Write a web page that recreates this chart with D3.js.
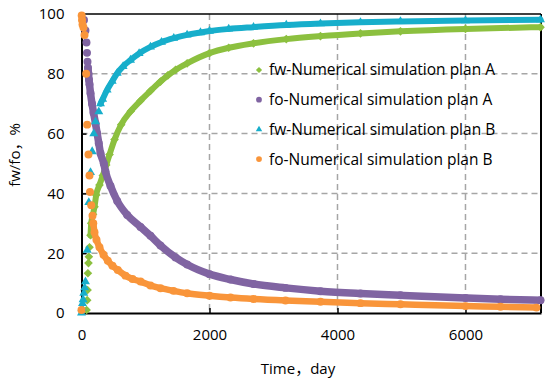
<!DOCTYPE html>
<html>
<head>
<meta charset="utf-8">
<script src="https://cdn.jsdelivr.net/npm/d3@7"></script>
<style>
  body { margin: 0; background: #fff; }
  text { font-family: "Open Sans", "Noto Sans CJK SC", sans-serif; fill: #000; }
</style>
</head>
<body>
<div id="chart"></div>
<script>
  // time (day) and value (%), one pair of arrays per series
  var fwATime = [80, 89, 95, 100, 109, 115, 125, 141, 152, 180, 203, 230, 281, 333, 386, 438, 516, 620, 770, 922, 1078, 1234, 1350, 1469, 1651, 2000, 2300, 2688, 3200, 3734, 4359, 4984, 6000, 7172];
  var fwAValue = [1, 4.3, 7.7, 13.3, 16.7, 18.8, 22, 26, 30, 33, 35.5, 39.5, 42.8, 46, 49.5, 53, 58, 63, 67.5, 71, 74.3, 77.4, 79.5, 81.3, 83.5, 86.9, 88.7, 90.2, 91.6, 92.6, 93.5, 94.2, 95, 95.6];

  var foATime = [39, 62, 78, 86, 94, 101, 109, 117, 125, 141, 164, 188, 219, 245, 270, 297, 348, 375, 453, 558, 714, 922, 1078, 1234, 1469, 1651, 2000, 2328, 2688, 3188, 3734, 4359, 4984, 6000, 6547, 7172];
  var foAValue = [98, 94.5, 90.5, 87, 84, 82, 80, 78, 76.5, 73.5, 70, 67, 63.4, 60, 56.8, 53.4, 50, 47.3, 42.5, 37.5, 32.8, 28.8, 25.8, 22.6, 18.6, 16.2, 13, 11.2, 9.7, 8.4, 7.3, 6.5, 5.9, 5, 4.6, 4.3];

  var fwBTime = [0, 8, 16, 25, 36, 50, 62, 89, 114, 141, 167, 192, 219, 270, 297, 330, 400, 480, 558, 650, 766, 900, 1078, 1250, 1442, 1650, 1859, 2000, 2300, 2688, 3200, 3734, 4359, 4984, 6000, 7172];
  var fwBValue = [0, 1.5, 3.2, 4.5, 6.6, 8.5, 10.5, 21, 37, 47, 54, 60, 64, 67.3, 70, 71.5, 74.6, 77.5, 80.2, 82.5, 84.6, 86.8, 89, 90.6, 91.9, 93, 93.8, 94.3, 95, 95.6, 96.3, 96.8, 97.2, 97.5, 97.8, 98.1];

  var foBTime = [0, 3, 8, 16, 31, 47, 73, 89, 109, 125, 133, 152, 172, 184, 203, 234, 281, 344, 411, 484, 567, 688, 797, 922, 1078, 1234, 1438, 1651, 2000, 2328, 2688, 3188, 3734, 4359, 4984, 6000, 6547, 7109];
  var foBValue = [1, 99.5, 98, 96.5, 95.5, 93, 80, 63, 53, 46, 40.5, 36, 32.5, 30, 27, 24.5, 22, 19.5, 17.5, 15.8, 14.4, 12.5, 11.4, 10.5, 9.2, 8.3, 7.4, 6.6, 5.8, 5.2, 4.7, 4.2, 3.8, 3.3, 2.9, 2.3, 2.1, 1.8];

  var seriesNames = ["fw-Numerical simulation plan A", "fo-Numerical simulation plan A", "fw-Numerical simulation plan B", "fo-Numerical simulation plan B"];
  var xTicks = [0, 2000, 4000, 6000];
  var yTicks = [0, 20, 40, 60, 80, 100];

  var width = 550, height = 384;

  var svg = d3.select("#chart")
              .append("svg")
              .attr("width", width)
              .attr("height", height);

  var x = d3.scaleLinear().domain([0, 7180]).range([81.5, 541]);
  var y = d3.scaleLinear().domain([0, 100]).range([313, 14]);

  var series = [
    {name: seriesNames[0], time: fwATime, value: fwAValue, color: "#8cc03f", shape: "diamond", band: 141, bandWidth: 6},
    {name: seriesNames[1], time: foATime, value: foAValue, color: "#8064a2", shape: "circle", band: 101, bandWidth: 7.5},
    {name: seriesNames[2], time: fwBTime, value: fwBValue, color: "#17aecb", shape: "triangle", band: 297, bandWidth: 6},
    {name: seriesNames[3], time: foBTime, value: foBValue, color: "#f9953a", shape: "circle", band: 184, bandWidth: 6.5}
  ];

  // dashed grid
  svg.append("g")
     .selectAll("line")
     .data(yTicks.slice(1, -1))
     .enter()
     .append("line")
     .attr("x1", x(0))
     .attr("x2", x.range()[1])
     .attr("y1", function(d) { return y(d); })
     .attr("y2", function(d) { return y(d); })
     .attr("stroke", "#a6a6a6")
     .attr("stroke-width", 1.5)
     .attr("stroke-dasharray", "6,4");

  svg.append("g")
     .selectAll("line")
     .data(xTicks.slice(1))
     .enter()
     .append("line")
     .attr("x1", function(d) { return x(d); })
     .attr("x2", function(d) { return x(d); })
     .attr("y1", y(100))
     .attr("y2", y(0))
     .attr("stroke", "#a6a6a6")
     .attr("stroke-width", 1.5)
     .attr("stroke-dasharray", "6,4");

  // frame top / right
  svg.append("line")
     .attr("x1", x(0)).attr("x2", x.range()[1])
     .attr("y1", y(100)).attr("y2", y(100))
     .attr("stroke", "#000").attr("stroke-width", 1.5);
  svg.append("line")
     .attr("x1", x.range()[1]).attr("x2", x.range()[1])
     .attr("y1", y(100)).attr("y2", y(0))
     .attr("stroke", "#000").attr("stroke-width", 2);

  // axes, ticks pointing inside
  var xAxis = svg.append("g")
                 .attr("transform", "translate(0," + y(0) + ")")
                 .call(d3.axisBottom(x).tickValues(xTicks).tickFormat(d3.format("d")).tickSizeInner(-5).tickSizeOuter(0).tickPadding(16));
  var yAxis = svg.append("g")
                 .attr("transform", "translate(" + x(0) + ",0)")
                 .call(d3.axisLeft(y).tickValues(yTicks).tickSizeInner(-5).tickSizeOuter(0).tickPadding(17));

  [xAxis, yAxis].forEach(function(a) {
    a.select(".domain").attr("stroke", "#000").attr("stroke-width", 2);
    a.selectAll(".tick line").attr("stroke", "#000").attr("stroke-width", 1.5);
    a.selectAll(".tick text").style("font-size", "15px").attr("fill", "#000");
  });
  xAxis.selectAll(".tick").filter(function(d) { return d === 0; }).select("line").remove();
  yAxis.selectAll(".tick").filter(function(d) { return d === 0 || d === 100; }).select("line").remove();

  // axis titles
  svg.append("text")
     .attr("x", 298)
     .attr("y", 374)
     .attr("text-anchor", "middle")
     .style("font-size", "15px")
     .text("Time，day");

  svg.append("text")
     .attr("transform", "translate(20,155) rotate(-90)")
     .attr("text-anchor", "middle")
     .style("font-size", "15px")
     .text("fw/fo，%");

  function symbolFor(shape, size) {
    if (shape === "diamond") return d3.symbol().type(d3.symbolSquare).size(size * 0.75)();
    if (shape === "triangle") return d3.symbol().type(d3.symbolTriangle).size(size * 0.7)();
    return d3.symbol().type(d3.symbolCircle).size(size)();
  }

  var line = d3.line()
               .x(function(d) { return x(d[0]); })
               .y(function(d) { return y(d[1]); })
               .curve(d3.curveMonotoneX);

  series.forEach(function(s) {
    var pts = s.time.map(function(t, i) { return [t, s.value[i]]; });
    var g = svg.append("g");

    // dense part of the scatter, where the markers merge into a band
    g.append("path")
     .datum(pts.filter(function(d) { return d[0] >= s.band; }))
     .attr("d", line)
     .attr("fill", "none")
     .attr("stroke", s.color)
     .attr("stroke-width", s.bandWidth)
     .attr("stroke-linecap", "round");

    g.selectAll(".pt")
     .data(pts)
     .enter()
     .append("path")
     .attr("class", "pt")
     .attr("transform", function(d) {
        var r = s.shape === "diamond" ? " rotate(45)" : "";
        return "translate(" + x(d[0]) + "," + y(d[1]) + ")" + r;
     })
     .attr("d", symbolFor(s.shape, 50))
     .attr("fill", s.color);
  });

  // legend
  var legend = svg.append("g")
                  .selectAll("g")
                  .data(series)
                  .enter()
                  .append("g")
                  .attr("transform", function(d, i) { return "translate(259," + (70 + i * 29.7) + ")"; });

  legend.append("path")
        .attr("transform", function(d) { return d.shape === "diamond" ? "rotate(45)" : null; })
        .attr("d", function(d) { return symbolFor(d.shape, 26); })
        .attr("fill", function(d) { return d.color; });

  legend.append("text")
        .attr("x", 10)
        .attr("dy", "0.35em")
        .style("font-size", "15.5px")
        .text(function(d) { return d.name; });
</script>
</body>
</html>
